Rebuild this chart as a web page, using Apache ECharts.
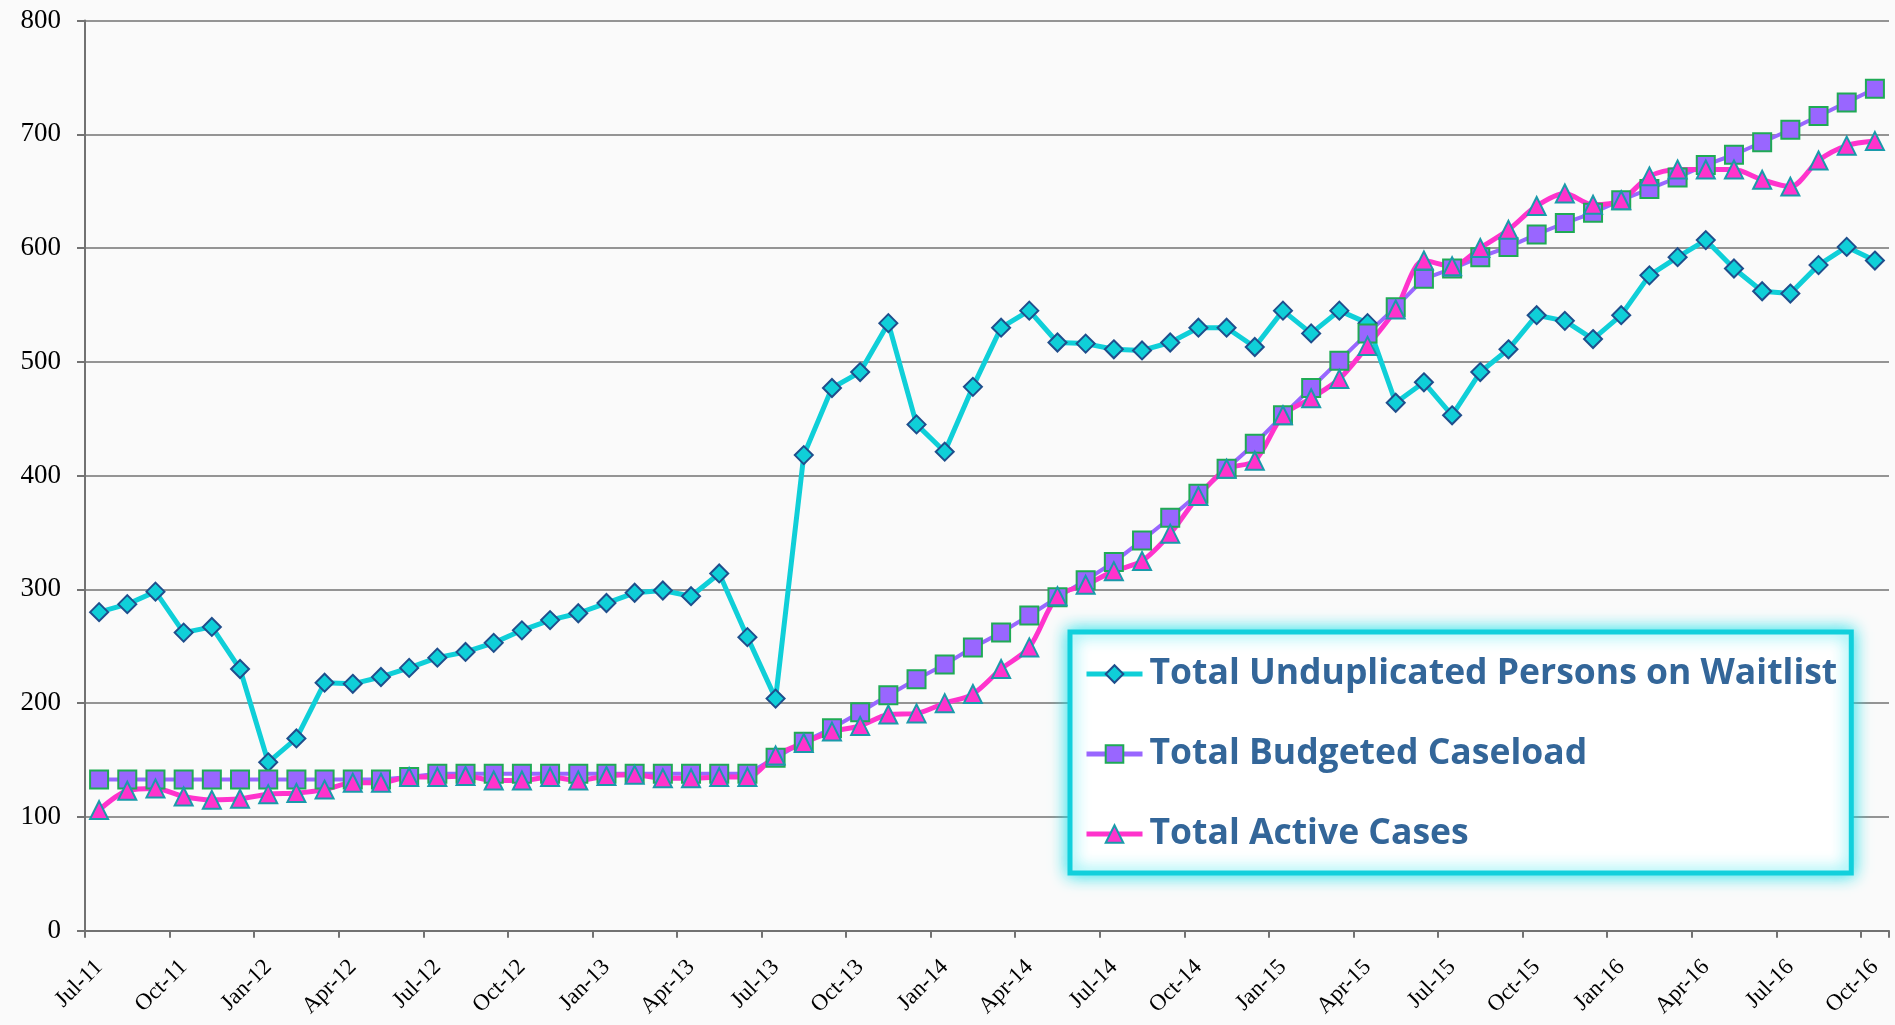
<!DOCTYPE html>
<html><head><meta charset="utf-8">
<script src="https://cdn.jsdelivr.net/npm/echarts@6/dist/echarts.min.js"></script>
<style>html,body{margin:0;padding:0;background:#fafafa;} #c{width:1895px;height:1025px;}</style>
</head><body><div id="c"></div>
<script>
const categories = ['Jul-11','Aug-11','Sep-11','Oct-11','Nov-11','Dec-11',
  'Jan-12','Feb-12','Mar-12','Apr-12','May-12','Jun-12','Jul-12','Aug-12','Sep-12','Oct-12','Nov-12','Dec-12',
  'Jan-13','Feb-13','Mar-13','Apr-13','May-13','Jun-13','Jul-13','Aug-13','Sep-13','Oct-13','Nov-13','Dec-13',
  'Jan-14','Feb-14','Mar-14','Apr-14','May-14','Jun-14','Jul-14','Aug-14','Sep-14','Oct-14','Nov-14','Dec-14',
  'Jan-15','Feb-15','Mar-15','Apr-15','May-15','Jun-15','Jul-15','Aug-15','Sep-15','Oct-15','Nov-15','Dec-15',
  'Jan-16','Feb-16','Mar-16','Apr-16','May-16','Jun-16','Jul-16','Aug-16','Sep-16','Oct-16'];
const waitlist = [280,287,298,262,267,230,148,169,218,217,223,231,240,245,253,264,273,279,288,297,299,294,314,258,
  204,418,477,491,534,445,421,478,530,545,517,516,511,510,517,530,530,513,545,525,545,534,464,482,453,491,511,541,
  536,520,541,576,592,607,582,562,560,585,601,589];
const budgeted = [133,133,133,133,133,133,133,133,133,133,133,135,138,138,138,138,138,138,138,138,138,138,138,138,
  152,166,178,192,207,221,234,249,262,277,293,308,324,343,363,384,406,428,453,477,501,525,548,573,582,592,601,612,
  622,631,642,652,662,673,682,693,704,716,728,740];
const active = [106,123,125,118,115,116,120,121,124,130,130,135,135,136,132,132,135,132,136,137,134,134,135,135,
  154,165,175,180,190,191,200,208,230,249,294,304,316,325,349,382,406,413,453,468,485,514,546,589,584,600,616,637,
  648,638,642,663,669,669,669,660,654,677,690,694];
const seriesNames = ['Total Unduplicated Persons on Waitlist','Total Budgeted Caseload','Total Active Cases'];

const chart = echarts.init(document.getElementById('c'), null, {renderer:'canvas'});
const gridColor = '#727272';
const option = {
  backgroundColor: '#fafafa',
  animation: false,
  grid: {left: 85, right: 6, top: 20.5, bottom: 94.3, containLabel: false, outerBoundsMode: 'none'},
  xAxis: [{
    type: 'category', data: categories, boundaryGap: true,
    axisLine: {lineStyle: {color: gridColor, width: 2}},
    axisTick: {show: true, interval: 2, length: 7, lineStyle: {color: gridColor, width: 2}},
    axisLabel: {show: true, interval: 2, rotate: 45, margin: 33, fontSize: 23, fontFamily: 'Liberation Serif', color: '#000000'},
    splitLine: {show: false}
  }],
  yAxis: [{
    type: 'value', min: 0, max: 800, interval: 100,
    axisLine: {show: true, lineStyle: {color: gridColor, width: 2}},
    axisTick: {show: true, length: 8, lineStyle: {color: gridColor, width: 2}},
    axisLabel: {show: true, margin: 24, fontSize: 27, fontFamily: 'Liberation Serif', color: '#000000'},
    splitLine: {show: true, lineStyle: {color: gridColor, width: 1.6}}
  }],
  legend: {
    orient: 'vertical', left: 1070, top: 632,
    data: seriesNames,
    itemWidth: 56, itemHeight: 22, itemGap: 40,
    padding: [22, 14, 19, 14],
    backgroundColor: '#ffffff',
    borderColor: '#11d0dc', borderWidth: 5, borderRadius: 0,
    shadowBlur: 16, shadowColor: 'rgba(20,225,235,0.9)',
    lineStyle: {width: 5},
    textStyle: {color: '#336699', fontWeight: 'bold', fontSize: 35.5, lineHeight: 40,
      fontFamily: "'Liberation Sans Narrow', 'Open Sans', sans-serif", padding: [0,0,0,2]}
  },
  series: [
    {name: seriesNames[0], type: 'line', data: waitlist, symbol: 'diamond', symbolSize: 18,
      lineStyle: {color: '#0fcfd8', width: 5}, itemStyle: {color: '#0fcfd8', borderColor: '#1f4e8c', borderWidth: 2}},
    {name: seriesNames[1], type: 'line', data: budgeted, symbol: 'rect', symbolSize: 18,
      lineStyle: {color: '#9966ff', width: 4}, itemStyle: {color: '#9966ff', borderColor: '#1faa55', borderWidth: 2}},
    {name: seriesNames[2], type: 'line', data: active, symbol: 'triangle', symbolSize: 18, smooth: 0.3,
      lineStyle: {color: '#ff33cc', width: 5}, itemStyle: {color: '#ff33cc', borderColor: '#1a9aaa', borderWidth: 2}}
  ]
};
chart.setOption(option);
</script></body></html>
